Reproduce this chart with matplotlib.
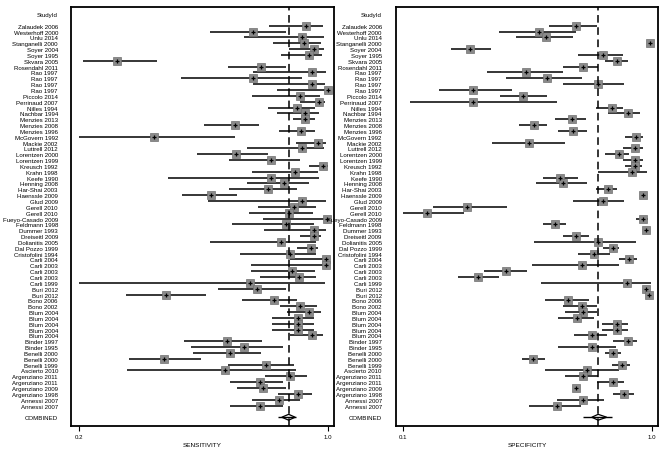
import numpy as np
import matplotlib.pyplot as plt
from matplotlib.patches import Polygon

plt.rcParams['font.family'] = ['Liberation Sans', 'DejaVu Sans']

studies = ['Zalaudek 2006', 'Westerhoff 2000', 'Unlu 2014', 'Stanganelli 2000', 'Soyer 2004',
           'Soyer 1995', 'Skvara 2005', 'Rosendahl 2011', 'Rao 1997', 'Rao 1997', 'Rao 1997',
           'Rao 1997', 'Piccolo 2014', 'Perrinaud 2007', 'Nilles 1994', 'Nachbar 1994',
           'Menzies 2013', 'Menzies 2008', 'Menzies 1996', 'McGovern 1992', 'Mackie 2002',
           'Luttrell 2012', 'Lorentzen 2000', 'Lorentzen 1999', 'Kreusch 1992', 'Krahn 1998',
           'Keefe 1990', 'Henning 2008', 'Har-Shai 2003', 'Haenssle 2009', 'Glud 2009',
           'Gerell 2010', 'Gerell 2010', 'Fueyo-Casado 2009', 'Feldmann 1998', 'Dummer 1993',
           'Dreiseitl 2009', 'Dolianitis 2005', 'Dal Pozzo 1999', 'Cristofolini 1994',
           'Carli 2004', 'Carli 2003', 'Carli 2003', 'Carli 2003', 'Carli 1999', 'Buri 2012',
           'Buri 2012', 'Bono 2006', 'Bono 2002', 'Blum 2004', 'Blum 2004', 'Blum 2004',
           'Blum 2004', 'Blum 2004', 'Binder 1997', 'Binder 1995', 'Benelli 2000',
           'Benelli 2000', 'Benelli 1999', 'Ascierto 2010', 'Argenziano 2011',
           'Argenziano 2011', 'Argenziano 2009', 'Argenziano 1998', 'Annessi 2007',
           'Annessi 2007']

sens = [0.930, 0.761, 0.916, 0.924, 0.954, 0.938, 0.323, 0.785, 0.950, 0.761, 0.950,
        1.000, 0.909, 0.973, 0.902, 0.927, 0.927, 0.700, 0.914, 0.441, 0.970, 0.916,
        0.705, 0.818, 0.986, 0.895, 0.818, 0.860, 0.809, 0.624, 0.916, 0.892, 0.874,
        0.997, 0.866, 0.957, 0.957, 0.850, 0.945, 0.879, 0.995, 0.995, 0.885, 0.908,
        0.750, 0.771, 0.480, 0.828, 0.911, 0.941, 0.903, 0.903, 0.903, 0.948, 0.675,
        0.732, 0.686, 0.474, 0.800, 0.670, 0.879, 0.782, 0.793, 0.905, 0.843, 0.782]
sens_lo = [0.812, 0.621, 0.732, 0.825, 0.874, 0.850, 0.212, 0.678, 0.761, 0.528, 0.761,
           0.838, 0.757, 0.909, 0.809, 0.838, 0.889, 0.603, 0.844, 0.201, 0.898, 0.739,
           0.579, 0.681, 0.941, 0.757, 0.485, 0.739, 0.681, 0.532, 0.616, 0.774, 0.745,
           0.793, 0.692, 0.796, 0.909, 0.621, 0.900, 0.718, 0.877, 0.753, 0.753, 0.782,
           0.201, 0.646, 0.351, 0.724, 0.847, 0.868, 0.820, 0.820, 0.820, 0.879, 0.539,
           0.560, 0.568, 0.362, 0.678, 0.353, 0.798, 0.686, 0.707, 0.841, 0.757, 0.686]
sens_hi = [0.984, 0.866, 0.988, 0.977, 0.988, 0.982, 0.450, 0.866, 0.994, 0.916, 0.990,
           1.000, 0.975, 0.991, 0.959, 0.973, 0.959, 0.780, 0.959, 0.702, 0.994, 0.988,
           0.809, 0.909, 1.000, 0.970, 0.973, 0.941, 0.902, 0.707, 0.994, 0.962, 0.952,
           1.000, 0.954, 0.994, 0.977, 0.962, 0.970, 0.962, 1.000, 1.000, 0.959, 0.962,
           0.991, 0.866, 0.608, 0.902, 0.964, 0.977, 0.954, 0.954, 0.954, 0.984, 0.788,
           0.857, 0.784, 0.592, 0.892, 0.898, 0.932, 0.855, 0.866, 0.948, 0.909, 0.857]

spec = [0.725, 0.591, 0.616, 0.995, 0.342, 0.823, 0.873, 0.750, 0.544, 0.620, 0.807,
        0.352, 0.535, 0.352, 0.855, 0.915, 0.711, 0.574, 0.716, 0.943, 0.556, 0.940,
        0.882, 0.940, 0.940, 0.928, 0.668, 0.678, 0.843, 0.970, 0.823, 0.330, 0.187,
        0.968, 0.651, 0.980, 0.726, 0.805, 0.859, 0.792, 0.919, 0.748, 0.471, 0.370,
        0.912, 0.980, 0.990, 0.698, 0.747, 0.752, 0.728, 0.873, 0.873, 0.785, 0.915,
        0.785, 0.861, 0.571, 0.892, 0.765, 0.752, 0.859, 0.726, 0.901, 0.752, 0.656]
spec_lo = [0.629, 0.447, 0.508, 0.985, 0.273, 0.734, 0.831, 0.678, 0.402, 0.472, 0.678,
           0.229, 0.450, 0.124, 0.798, 0.843, 0.651, 0.520, 0.662, 0.904, 0.420, 0.895,
           0.831, 0.897, 0.904, 0.807, 0.605, 0.581, 0.797, 0.960, 0.714, 0.209, 0.100,
           0.943, 0.605, 0.970, 0.678, 0.574, 0.825, 0.734, 0.882, 0.565, 0.392, 0.297,
           0.598, 0.970, 0.980, 0.614, 0.678, 0.686, 0.662, 0.819, 0.819, 0.720, 0.861,
           0.662, 0.831, 0.529, 0.855, 0.614, 0.686, 0.801, 0.714, 0.859, 0.658, 0.557]
spec_hi = [0.803, 0.726, 0.714, 1.000, 0.417, 0.895, 0.913, 0.807, 0.678, 0.747, 0.901,
           0.493, 0.622, 0.658, 0.897, 0.958, 0.762, 0.622, 0.767, 0.968, 0.686, 0.968,
           0.919, 0.970, 0.965, 0.982, 0.734, 0.767, 0.876, 0.980, 0.900, 0.477, 0.320,
           0.986, 0.690, 0.990, 0.772, 0.943, 0.883, 0.849, 0.946, 0.883, 0.549, 0.448,
           0.997, 0.990, 1.000, 0.774, 0.803, 0.803, 0.791, 0.913, 0.913, 0.837, 0.946,
           0.871, 0.888, 0.614, 0.922, 0.883, 0.807, 0.900, 0.738, 0.936, 0.827, 0.743]

# pooled estimate: point, 95% CI, prediction band
sens_pooled = [0.874, 0.852, 0.895, 0.841, 0.898]
spec_pooled = [0.806, 0.783, 0.837, 0.752, 0.855]

fig = plt.figure(figsize=(6.71, 4.52), dpi=100)
ax1 = fig.add_axes([0.1058, 0.0553, 0.392, 0.927])
ax2 = fig.add_axes([0.5897, 0.0553, 0.3914, 0.927])


def forest(ax, est, lo, hi, pooled, xlim, ticks, xlabel, pad):
    y = np.arange(len(est))
    ax.hlines(y, lo, hi, color='black', lw=1.1)
    ax.plot(est, y, 's', ms=5.2, mfc='#8a8a8a', mec='#707070', mew=0.5, ls='none', clip_on=False)
    ax.plot(est, y, '+', ms=2.8, color='black', mew=0.9, ls='none', clip_on=False)
    ax.axvline(pooled[0], color='black', ls=(0, (5, 3)), lw=1.1)

    yc = len(est) + 1
    pt, clo, chi, plo, phi = pooled
    ax.hlines(yc, plo, phi, color='black', lw=1.0)
    ax.add_patch(Polygon([(clo, yc), (pt, yc - 0.5), (chi, yc), (pt, yc + 0.5)],
                         closed=True, facecolor='none', edgecolor='black', lw=0.9))

    ax.set_xlim(xlim)
    ax.set_ylim(68.5, -3.2)
    ax.set_xticks(ticks)
    ax.set_xticklabels(['%.1f' % t for t in ticks])
    ax.set_yticks(list(y) + [-2, yc])
    ax.set_yticklabels(studies + ['StudyId', 'COMBINED'])
    ax.tick_params(axis='y', length=0, pad=pad, labelsize=4.4)
    ax.tick_params(axis='x', length=3.6, width=0.8, pad=2.5, labelsize=4.4)
    ax.set_xlabel(xlabel, fontsize=4.6, labelpad=1.5)
    for s in ax.spines.values():
        s.set_linewidth(1.3)


forest(ax1, sens, sens_lo, sens_hi, sens_pooled, (0.174, 1.02), [0.2, 1.0], 'SENSITIVITY', 9.4)
forest(ax2, spec, spec_lo, spec_hi, spec_pooled, (0.0725, 1.024), [0.1, 1.0], 'SPECIFICITY', 10)

fig.savefig('out.png', dpi=100)
